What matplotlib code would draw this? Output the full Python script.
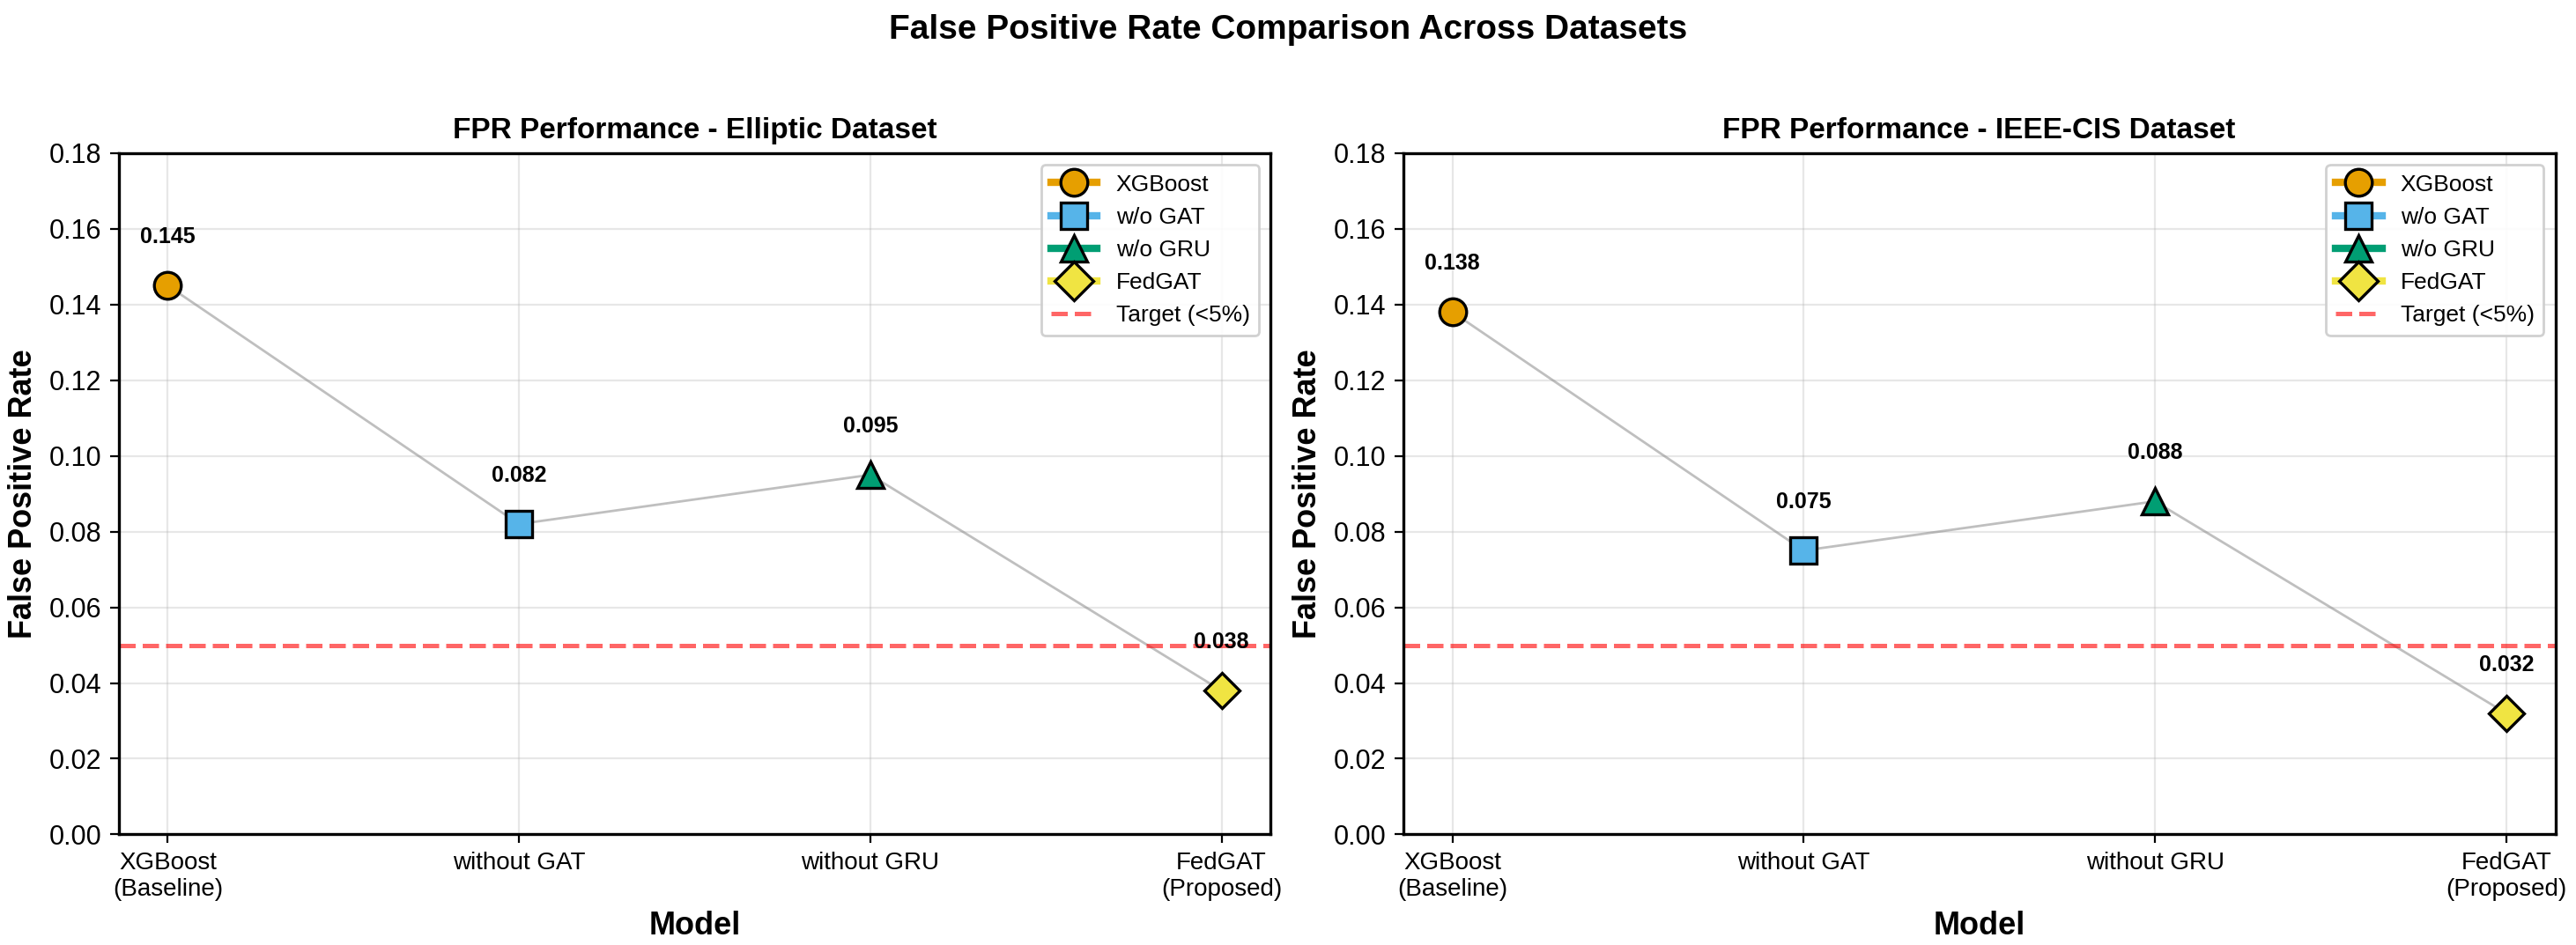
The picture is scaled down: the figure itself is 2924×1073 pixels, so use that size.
import matplotlib
matplotlib.use("Agg")
import matplotlib.pyplot as plt
from matplotlib.lines import Line2D

plt.rcParams['font.family'] = ['Liberation Sans', 'DejaVu Sans']

models = ["XGBoost\n(Baseline)", "without GAT", "without GRU", "FedGAT\n(Proposed)"]
legend_names = ["XGBoost", "w/o GAT", "w/o GRU", "FedGAT"]
elliptic_fpr = [0.145, 0.082, 0.095, 0.038]
ieee_fpr = [0.138, 0.075, 0.088, 0.032]
colors = ["#E69F00", "#56B4E9", "#009E73", "#F0E442"]
markers = ["o", "s", "^", "D"]
target = 0.05

fig, axes = plt.subplots(1, 2, figsize=(14.62, 5.365), dpi=200)
fig.subplots_adjust(left=0.046, right=0.992, top=0.838, bottom=0.117, wspace=0.115)
fig.suptitle("False Positive Rate Comparison Across Datasets", fontsize=14, fontweight="bold", y=0.985)

for ax, vals, name in zip(axes, [elliptic_fpr, ieee_fpr], ["Elliptic", "IEEE-CIS"]):
    x = list(range(len(models)))
    ax.plot(x, vals, color="gray", alpha=0.5, linewidth=1, zorder=1)
    handles = []
    for i, v in enumerate(vals):
        ax.plot(x[i], v, marker=markers[i], markersize=11 if markers[i] != "D" else 10,
                color=colors[i], markeredgecolor="black", markeredgewidth=1.2, linestyle="", zorder=3)
        ax.text(x[i], v + 0.01, f"{v:.3f}", ha="center", va="bottom", fontsize=9, fontweight="bold")
        handles.append(Line2D([0], [0], color=colors[i], linewidth=3, marker=markers[i], markersize=11,
                              markerfacecolor=colors[i], markeredgecolor="black", markeredgewidth=1.2,
                              label=legend_names[i]))
    ax.axhline(target, color="red", linestyle="--", alpha=0.6, linewidth=1.8, zorder=2)
    handles.append(Line2D([0], [0], color="red", linestyle="--", alpha=0.6, linewidth=1.8, label="Target (<5%)"))
    ax.set_ylim(0, 0.18)
    ax.set_yticks([i * 0.02 for i in range(10)])
    ax.set_xlim(-0.14, 3.14)
    ax.set_xticks(x)
    ax.set_xticklabels(models, fontsize=10)
    ax.tick_params(axis="y", labelsize=11)
    ax.grid(True, alpha=0.3)
    ax.set_axisbelow(True)
    for s in ax.spines.values():
        s.set_linewidth(1.2)
    ax.set_xlabel("Model", fontsize=13, fontweight="bold")
    ax.set_ylabel("False Positive Rate", fontsize=13, fontweight="bold")
    ax.set_title(f"FPR Performance - {name} Dataset", fontsize=12, fontweight="bold")
    ax.legend(handles=handles, loc="upper right", fontsize=9.5, framealpha=0.9)

fig.savefig("out.png", dpi=200)
